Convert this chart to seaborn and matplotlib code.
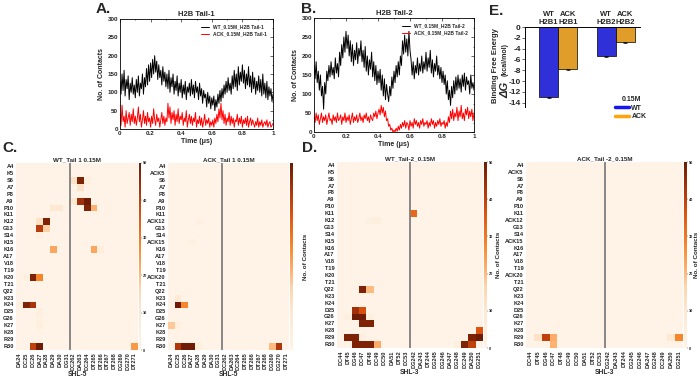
import numpy as np
import pandas as pd
import matplotlib
matplotlib.use("Agg")
import matplotlib.pyplot as plt
import seaborn as sns
from matplotlib.colors import LinearSegmentedColormap
from matplotlib.lines import Line2D
from matplotlib.ticker import MultipleLocator

sns.set_style("white")
plt.rcParams['font.family'] = ['Liberation Sans', 'DejaVu Sans']
plt.rcParams['font.weight'] = 'bold'
plt.rcParams['axes.labelweight'] = 'bold'
plt.rcParams['axes.titleweight'] = 'bold'
plt.rcParams['axes.unicode_minus'] = False

# ---------------- data: contacts vs time (A, B) ----------------
wt_tail1 = [130, 95, 150, 105, 160, 90, 135, 110, 145, 80, 125, 100, 140, 95, 120, 85,
            135, 100, 145, 90, 125, 110, 150, 95, 140, 115, 165, 120, 175, 130, 180,
            140, 190, 150, 200, 155, 185, 135, 175, 140, 160, 120, 170, 130, 155, 115,
            150, 110, 160, 100, 140, 115, 150, 95, 130, 105, 145, 90, 125, 100, 135,
            85, 120, 95, 130, 80, 115, 100, 125, 90, 135, 95, 120, 85, 130, 100,
            115, 80, 125, 90, 110, 70, 105, 85, 95, 60, 100, 70, 90, 55, 85,
            65, 90, 50, 80, 60, 95, 70, 105, 75, 110, 85, 120, 95, 130, 100,
            140, 105, 125, 95, 145, 110, 160, 115, 150, 105, 170, 120, 155, 130, 175,
            125, 160, 110, 150, 120, 170, 115, 145, 100, 155, 110, 140, 95, 130, 105,
            145, 100, 135, 90, 150, 95, 125, 85, 130, 80, 115, 90, 110, 75, 95]
ack_tail1 = [40, 10, 65, 20, 35, 5, 50, 15, 30, 45, 10, 40, 20, 55, 15, 35,
             10, 30, 60, 20, 40, 5, 25, 50, 15, 35, 10, 45, 20, 30, 5,
             35, 15, 55, 25, 10, 40, 20, 30, 5, 25, 45, 15, 35, 10, 30,
             20, 70, 30, 60, 15, 45, 25, 50, 10, 40, 20, 55, 15, 35, 25,
             45, 10, 30, 20, 50, 5, 25, 40, 15, 35, 10, 30, 20, 45, 5,
             25, 15, 35, 10, 30, 5, 20, 40, 10, 25, 15, 30, 5, 20, 10,
             25, 5, 30, 15, 40, 20, 55, 30, 70, 25, 50, 15, 40, 10, 30,
             20, 45, 10, 35, 15, 30, 5, 25, 20, 40, 10, 30, 15, 35, 5,
             25, 15, 30, 10, 35, 5, 20, 30, 10, 25, 15, 5, 20, 10, 30,
             5, 20, 10, 25, 5, 15, 20, 10, 25, 5, 15, 20, 5, 10, 15]
wt_tail2 = [175, 140, 185, 130, 160, 110, 150, 95, 120, 60, 130, 100, 160, 135, 175, 145,
            185, 150, 170, 140, 195, 155, 180, 145, 210, 175, 230, 195, 250, 210, 265,
            220, 255, 200, 240, 185, 230, 175, 215, 190, 235, 180, 220, 200, 240, 185,
            215, 170, 225, 160, 200, 150, 190, 165, 210, 145, 185, 135, 175, 125, 160,
            130, 165, 110, 150, 95, 140, 85, 125, 100, 80, 120, 95, 145, 115, 160,
            130, 175, 145, 185, 150, 200, 175, 240, 205, 255, 210, 245, 200, 265, 215,
            190, 150, 185, 140, 175, 155, 195, 150, 180, 160, 200, 155, 185, 165, 210,
            160, 195, 170, 215, 155, 190, 145, 180, 160, 200, 150, 175, 140, 170, 130,
            160, 125, 150, 100, 135, 85, 110, 70, 120, 90, 135, 100, 145, 110, 150,
            115, 140, 105, 150, 120, 155, 110, 145, 125, 135, 100, 150, 115, 130, 110]
ack_tail2 = [40, 25, 50, 30, 45, 20, 35, 50, 25, 40, 30, 45, 20, 35, 50, 30,
             35, 20, 45, 30, 40, 25, 50, 30, 35, 45, 20, 40, 30, 50, 25,
             40, 30, 45, 20, 35, 50, 25, 40, 30, 45, 25, 35, 50, 30, 40,
             25, 45, 35, 50, 30, 40, 25, 45, 35, 30, 50, 40, 55, 35, 50,
             60, 45, 70, 50, 65, 40, 55, 30, 35, 15, 20, 5, 10, 0, 5,
             0, 10, 2, 15, 5, 20, 10, 25, 15, 30, 10, 25, 20, 5, 30,
             15, 25, 10, 35, 20, 30, 15, 25, 10, 30, 20, 35, 15, 25, 20,
             30, 10, 25, 15, 35, 20, 30, 10, 25, 15, 30, 20, 35, 15, 25,
             20, 30, 10, 25, 15, 40, 25, 55, 35, 60, 30, 50, 40, 65, 30,
             55, 40, 70, 35, 50, 30, 60, 45, 65, 35, 55, 40, 60, 30, 50]

# ---------------- data: binding free energy (E) ----------------
e_labels = ["WT\nH2B1", "ACK\nH2B1", "WT\nH2B2", "ACK\nH2B2"]
e_system = ["WT", "ACK", "WT", "ACK"]
e_dg = [-13.0, -7.8, -5.4, -2.8]
e_err = [0.12, 0.1, 0.1, 0.1]

# ---------------- data: contact maps (C, D) ----------------
tail_wt = ["A4", "K5", "S6", "A7", "P8", "A9", "P10", "K11", "K12", "G13", "S14", "K15",
           "K16", "A17", "V18", "T19", "K20", "T21", "Q22", "K23", "K24", "D25", "G26",
           "K27", "K28", "R29", "R30"]
tail_ack = ["A4", "ACK5", "S6", "A7", "P8", "A9", "P10", "K11", "ACK12", "G13", "S14", "ACK15",
            "K16", "A17", "V18", "T19", "ACK20", "T21", "Q22", "K23", "K24", "D25", "G26",
            "K27", "K28", "R29", "R30"]
shl5_dna = ["DA24", "DC25", "DC26", "DA27", "DA28", "DA29", "DA30", "DG31",
            "DC262", "DA263", "DC264", "DT265", "DT266", "DT267", "DT268", "DG269", "DG270", "DT271"]
shl3_dna = ["DC44", "DT45", "DG46", "DC47", "DT48", "DC49", "DC50", "DA51", "DT52", "DC53",
            "DG242", "DA243", "DT244", "DG245", "DG246", "DA247", "DG248", "DC249", "DA250", "DG251"]

# (residue, nucleotide, contacts); all other cells are 0
c_wt_contacts = [
    ("S6", "DC262", 12), ("S6", "DA263", 48), ("S6", "DC264", 5),
    ("A7", "DA263", 12),
    ("A9", "DC262", 10), ("A9", "DA263", 44), ("A9", "DC264", 50),
    ("P10", "DA29", 10), ("P10", "DA30", 10), ("P10", "DC264", 48), ("P10", "DT265", 21),
    ("K12", "DA27", 12), ("K12", "DA28", 48),
    ("G13", "DA27", 41), ("G13", "DA28", 17),
    ("S14", "DA27", 3),
    ("K16", "DA29", 23), ("K16", "DT265", 23), ("K16", "DT266", 6),
    ("K20", "DC25", 4), ("K20", "DC26", 48), ("K20", "DA27", 28),
    ("K24", "DA24", 4), ("K24", "DC25", 48), ("K24", "DC26", 43),
    ("D25", "DA27", 3), ("G26", "DA27", 2), ("K27", "DA27", 5),
    ("R30", "DC26", 40), ("R30", "DA27", 50), ("R30", "DT271", 25),
]
c_ack_contacts = [
    ("ACK12", "DA28", 2), ("ACK15", "DA27", 2),
    ("K23", "DC25", 8),
    ("K24", "DC25", 50), ("K24", "DC26", 28),
    ("K27", "DA24", 18), ("K27", "DC25", 4),
    ("R30", "DC25", 42), ("R30", "DC26", 50), ("R30", "DA27", 50), ("R30", "DA28", 5),
    ("R30", "DG269", 20), ("R30", "DG270", 42),
]
d_wt_contacts = [
    ("K11", "DG242", 33),
    ("K12", "DT48", 3), ("K12", "DC49", 5),
    ("Q22", "DC47", 48), ("Q22", "DT48", 20),
    ("D25", "DG46", 44), ("D25", "DC47", 37),
    ("G26", "DT45", 3), ("G26", "DG46", 50), ("G26", "DC47", 50), ("G26", "DT48", 3),
    ("K27", "DC47", 48), ("K27", "DT48", 48),
    ("K28", "DG251", 36),
    ("R29", "DT45", 48), ("R29", "DG46", 48), ("R29", "DC47", 3),
    ("R29", "DA250", 48), ("R29", "DG251", 50),
    ("R30", "DG46", 48), ("R30", "DC47", 48), ("R30", "DT48", 48), ("R30", "DC49", 22),
    ("R30", "DG248", 4), ("R30", "DC249", 48), ("R30", "DA250", 40),
]
d_ack_contacts = [
    ("R29", "DT45", 12), ("R29", "DG46", 40), ("R29", "DC47", 22),
    ("R29", "DA250", 10), ("R29", "DG251", 28),
    ("R30", "DC47", 21),
]

contact_cmap = LinearSegmentedColormap.from_list(
    "contacts",
    [(0.0, "#fef3e6"), (0.2, "#fde8d2"), (0.33, "#fdd5ad"), (0.42, "#fdb272"),
     (0.55, "#f7892e"), (0.72, "#de5410"), (0.86, "#a8340a"), (1.0, "#6e1c05")])

W, H = 700, 380
fig = plt.figure(figsize=(7, 3.8), dpi=100)


def px_axes(l, t, r, b):
    return fig.add_axes([l / W, 1 - b / H, (r - l) / W, (b - t) / H])


def trace_panel(ax, wt, ack, tail):
    sns.lineplot(x=np.linspace(0, 1, len(wt)), y=wt, ax=ax, color="black", lw=0.7,
                 label="WT_0.15M_H2B Tail-" + tail)
    sns.lineplot(x=np.linspace(0, 1, len(ack)), y=ack, ax=ax, color="red", lw=0.7,
                 label="ACK_0.15M_H2B Tail-" + tail)
    ax.set_xlim(0, 1)
    ax.set_ylim(0, 300)
    ax.set_xticks([0, 0.2, 0.4, 0.6, 0.8, 1])
    ax.set_xticklabels(["0", "0.2", "0.4", "0.6", "0.8", "1"])
    ax.set_yticks(range(0, 301, 50))
    ax.xaxis.set_minor_locator(MultipleLocator(0.1))
    ax.yaxis.set_minor_locator(MultipleLocator(25))
    ax.tick_params(which='both', direction='in', top=True, right=True, labelsize=4.5,
                   length=2, width=0.5, pad=1.5)
    ax.tick_params(which='minor', length=1)
    ax.set_title("H2B Tail-" + tail, fontsize=5.5, pad=2)
    ax.set_xlabel("Time (μs)", fontsize=5, labelpad=1.5)
    ax.set_ylabel("No. of Contacts", fontsize=5, labelpad=1.5)
    for s in ax.spines.values():
        s.set_linewidth(0.6)
        s.set_color("black")
    ax.legend(loc="upper right", fontsize=3.5, frameon=False, handlelength=1.8,
              borderaxespad=0.8, labelspacing=0.3)


def contact_map(box, cbox, rows, cols, contacts, n_left, title, shl, cbar_ticks=True,
                cbar_label=None, label_pad=2):
    df = pd.DataFrame(0.0, index=rows, columns=cols)
    for r, c, v in contacts:
        df.loc[r, c] = v
    ax = px_axes(*box)
    cax = px_axes(*cbox)
    sns.heatmap(df, ax=ax, cbar_ax=cax, cmap=contact_cmap, vmin=0, vmax=50,
                xticklabels=True, yticklabels=True)
    ax.axvline(n_left, color="#7f7f7f", lw=1.3)
    ax.tick_params(axis='both', length=1.2, width=0.4, pad=0.5, labelsize=4.1)
    ax.set_xticklabels(cols, rotation=90)
    ax.set_yticklabels(rows, rotation=0)
    ax.set_title(title, fontsize=4.5, pad=1.5)
    ax.set_xlabel(shl, fontsize=4.8, labelpad=0.5)
    ax.set_ylabel("")
    cax.set_yticks(range(0, 51, 10))
    cax.tick_params(labelsize=2.8, length=0.8, width=0.3, pad=0.5)
    if not cbar_ticks:
        cax.set_yticklabels([])
        cax.tick_params(length=0)
    if cbar_label:
        cax.set_ylabel(cbar_label, fontsize=4.5, labelpad=label_pad)
    return ax


# A and B
ax_a = px_axes(120, 19, 273, 129)
trace_panel(ax_a, wt_tail1, ack_tail1, "1")
ax_b = px_axes(314, 18, 474, 132)
trace_panel(ax_b, wt_tail2, ack_tail2, "2")

# E
ax_e = px_axes(525, 27, 640, 107)
e_df = pd.DataFrame({"label": e_labels, "dG": e_dg, "system": e_system})
order = e_labels[:2] + [""] + e_labels[2:]
sns.barplot(data=e_df, x="label", y="dG", hue="system", order=order, dodge=False,
            palette={"WT": "#1414f5", "ACK": "#ffa50a"}, width=1.0, edgecolor="black",
            linewidth=0.5, legend=False, ax=ax_e)
bars = sorted([p for p in ax_e.patches if p.get_height() != 0], key=lambda p: p.get_x())
ax_e.errorbar([p.get_x() + p.get_width() / 2 for p in bars], [p.get_height() for p in bars],
              yerr=e_err, fmt='none', ecolor='black', elinewidth=0.5, capsize=1.5, capthick=0.5)
ax_e.set_xlim(-1.23, 4.76)
ax_e.set_ylim(-14.8, 0)
ax_e.set_yticks(range(0, -15, -2))
ax_e.xaxis.tick_top()
ax_e.tick_params(axis='x', length=0, labelsize=5.5, pad=1)
ax_e.tick_params(axis='y', direction='out', length=2, width=0.5, labelsize=6, pad=1, left=True)
ax_e.set_xlabel("")
ax_e.set_ylabel("")
for side in ["right", "bottom"]:
    ax_e.spines[side].set_visible(False)
for side in ["top", "left"]:
    ax_e.spines[side].set_linewidth(0.7)
    ax_e.spines[side].set_color("black")
fig.text(496 / W, 1 - 66 / H, "Binding Free Energy", rotation=90, fontsize=5.5,
         ha='center', va='center')
fig.text(505 / W, 1 - 90 / H, "ΔG", rotation=90, fontsize=8, style='italic',
         ha='center', va='center')
fig.text(505 / W, 1 - 60 / H, "(kcal/mol)", rotation=90, fontsize=5,
         ha='center', va='center')
handles = [Line2D([], [], color="#1414f5", lw=2.5), Line2D([], [], color="#ffa50a", lw=2.5)]
ax_e.legend(handles, ["WT", "ACK"], title="0.15M", loc="upper left",
            bbox_to_anchor=(612 / W, 1 - 93 / H), bbox_transform=fig.transFigure,
            frameon=False, fontsize=5, title_fontproperties={'weight': 'bold', 'size': 5},
            handlelength=2, handletextpad=0.3, labelspacing=0.2, borderpad=0)

# C and D
contact_map((16, 163, 138, 350), (138.5, 163, 141, 350), tail_wt, shl5_dna, c_wt_contacts,
            8, "WT_Tail 1 0.15M", "SHL-5")
contact_map((168, 163, 289, 350), (290, 163, 293, 350), tail_ack, shl5_dna, c_ack_contacts,
            8, "ACK_Tail 1 0.15M", "SHL-5", cbar_ticks=False, cbar_label="No. of Contacts",
            label_pad=7)
contact_map((337, 162, 483, 348), (484, 162, 487, 348), tail_wt, shl3_dna, d_wt_contacts,
            10, "WT_Tail-2_0.15M", "SHL-3", cbar_label="No. of Contacts")
contact_map((526, 162, 683, 348), (684, 162, 687, 348), tail_ack, shl3_dna, d_ack_contacts,
            10, "ACK_Tail -2_0.15M", "SHL-3", cbar_label="No. of Contacts", label_pad=0.5)

# panel letters
for x, y, s in [(96, 2, "A."), (301, 2, "B."), (489, 4, "E."), (2, 141, "C."), (302, 141, "D.")]:
    fig.text(x / W, 1 - y / H, s, fontsize=11, weight='bold', va='top', ha='left')

fig.savefig("out.png", dpi=100)
